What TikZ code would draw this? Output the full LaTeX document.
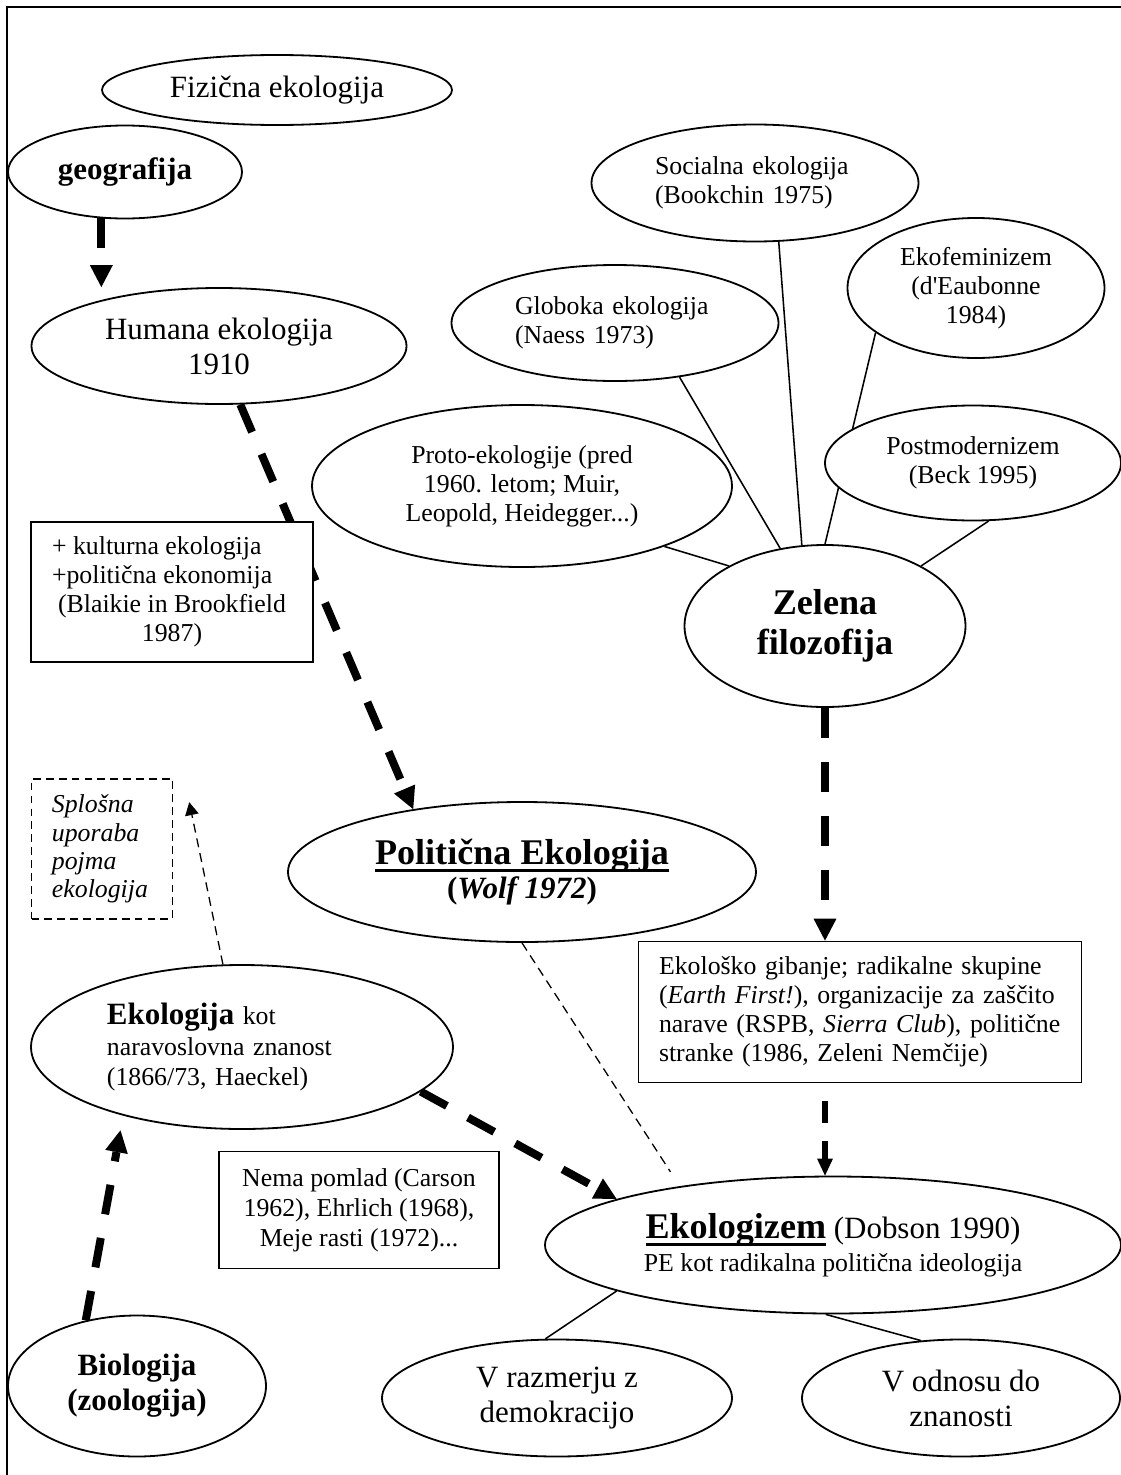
\documentclass[tikz,border=0pt]{standalone}
\usepackage{fontspec}
\setmainfont{Liberation Serif}
\usepackage{tikz}
\usetikzlibrary{shapes.geometric, arrows.meta, backgrounds}

\newcommand{\pxu}{0.3876pt}
\newcommand{\ulbold}[1]{\leavevmode\setbox0\hbox{#1}\rlap{\rule[-3pt]{\wd0}{1.2pt}}\box0\relax}

\tikzset{
    oval/.style={shape=ellipse, draw, fill=white, line width=0.7pt, inner sep=0pt, align=center},
    note/.style={shape=rectangle, draw, fill=white, line width=0.7pt, inner sep=0pt, align=center},
    dims/.style 2 args={minimum width=#1*\pxu, minimum height=#2*\pxu},
    fsmall/.style={font=\fontsize{10}{11.2}\selectfont},
    fmain/.style={font=\fontsize{12}{13.6}\selectfont},
    fbold/.style={font=\fontsize{12}{13.6}\selectfont\bfseries},
    thickdash/.style={line width=3.1pt, dash pattern=on 11.6pt off 9.3pt, -{Triangle[width=8.9pt, length=8.5pt, line width=0pt]}},
    middash/.style={line width=2.1pt, dash pattern=on 8.5pt off 7pt, dash phase=8.5pt, -{Triangle[width=6.2pt, length=6.6pt, line width=0pt]}},
    thindash/.style={line width=0.5pt, dash pattern=on 3.5pt off 2.3pt},
    spoke/.style={line width=0.6pt},
}

\begin{document}
\begin{tikzpicture}[x=\pxu, y=-\pxu]
    \useasboundingbox (0,0) rectangle (1121,1475);

    % Left column
    \node[oval, fmain, dims={350}{70}] (fiz) at (277,90) {Fizična ekologija};
    \node[oval, fbold, dims={234}{93}] (geo) at (125,172) {geografija};
    \node[oval, fmain, dims={375}{116}] (hum) at (219,346) {Humana ekologija\\1910};
    \node[note, fsmall, dims={282}{140}] (kult) at (172,592) {\makebox[93pt][l]{+ kulturna ekologija}\\\makebox[93pt][l]{+politična ekonomija}\\(Blaikie in Brookfield\\1987)};
    \node[note, dashed, dash pattern=on 3pt off 2pt, line width=0.6pt, font=\fontsize{10}{11}\selectfont\itshape, align=left, text width=38.8pt, dims={141}{140}] (splosna) at (102,849) {Splošna\\uporaba\\pojma\\ekologija};
    \node[oval, font=\fontsize{10}{12}\selectfont, align=left, text width=104.7pt, dims={422}{164}] (ekol) at (242,1047) {{\fontsize{12}{12}\selectfont\bfseries Ekologija} kot\\naravoslovna znanost\\(1866/73, Haeckel)};
    \node[note, font=\fontsize{10}{11.6}\selectfont, dims={280}{117}] (nema) at (359,1210) {Nema pomlad (Carson\\1962), Ehrlich (1968),\\Meje rasti (1972)...};
    \node[oval, fbold, dims={258}{141}] (bio) at (137,1386) {Biologija\\(zoologija)};

    % Green philosophy cluster
    \node[oval, fsmall, align=left, text width=77.5pt, dims={327}{117}] (soc) at (755,183) {Socialna ekologija\\(Bookchin 1975)};
    \node[oval, fsmall, dims={257}{140}] (ekofem) at (976,288) {Ekofeminizem\\(d\textquotesingle Eaubonne\\1984)};
    \node[oval, fsmall, align=left, text width=77.5pt, dims={327}{116}] (glob) at (615,323) {Globoka ekologija\\(Naess 1973)};
    \node[oval, fsmall, dims={420}{162}] (proto) at (522,486) {Proto-ekologije (pred\\1960. letom; Muir,\\Leopold, Heidegger...)};
    \node[oval, fsmall, dims={296}{115}] (postmod) at (973,463) {Postmodernizem\\(Beck 1995)};
    \node[oval, font=\fontsize{14}{15.5}\selectfont\bfseries, dims={281}{162}] (zel) at (825,626) {Zelena\\filozofija};
    \node[note, fsmall, align=left, text width=155.8pt, dims={443}{141}] (gib) at (860,1012) {Ekološko gibanje; radikalne skupine\\(\textit{Earth First!}), organizacije za zaščito\\narave (RSPB, \textit{Sierra Club}), politične\\stranke (1986, Zeleni Nemčije)};

    % Centre
    \node[oval, font=\fontsize{14}{13.2}\selectfont\bfseries, dims={468}{140}] (pol) at (522,872) {\ulbold{Politična Ekologija}\\{\fontsize{12}{13.2}\selectfont(\textit{Wolf 1972})}};
    \node[oval, font=\fontsize{12}{12.8}\selectfont, dims={576}{137}] (ekz) at (833,1245) {\ulbold{\fontsize{14}{16}\selectfont\bfseries Ekologizem} (Dobson 1990)\\{\fontsize{10}{12}\selectfont PE kot radikalna politična ideologija}};
    \node[oval, fmain, dims={350}{117}] (razm) at (557,1398) {V razmerju z\\demokracijo};
    \node[oval, fmain, dims={318}{117}] (odn) at (961,1398) {V odnosu do\\znanosti};

    \coordinate (tipS) at ([xshift=6.2pt, yshift=-9.3pt]splosna.north east);

    \begin{pgfonlayer}{background}
        % dashed arrows
        \draw[thickdash] (geo.243) -- (geo.243 |- hum.north);
        \draw[thickdash] (hum.-70) -- (pol.150);
        \draw[thickdash] (zel.south) -- (zel.south |- gib.north);
        \draw[middash] (gib.south -| zel.south) -- (ekz.north -| zel.south);
        \draw[thickdash] (ekol.-14) -- (ekz.168);
        \draw[thickdash, shorten >=5.8pt] (bio.128) -- (ekol.210);
        \draw[thindash, -{Triangle[width=5.4pt, length=5pt, line width=0pt]}] (ekol.103) -- (tipS);
        \draw[thindash, shorten >=6.6pt] (pol.south) -- (ekz.159);
        % plain lines
        \draw[spoke] (proto.-23) -- (zel.148);
        \draw[spoke] (glob.-40) -- (zel.120);
        \draw[spoke] (soc.-68) -- (zel.106);
        \draw[spoke] (ekofem.204) -- (zel.north);
        \draw[spoke] (postmod.-75) -- (zel.32);
        \draw[spoke] (ekz.192) -- (razm.101);
        \draw[spoke] (ekz.-96) -- (odn.125);
    \end{pgfonlayer}

    % Frame
    \draw[line width=0.8pt] (7,1475) -- (7,7) -- (1121,7);
\end{tikzpicture}
\end{document}
